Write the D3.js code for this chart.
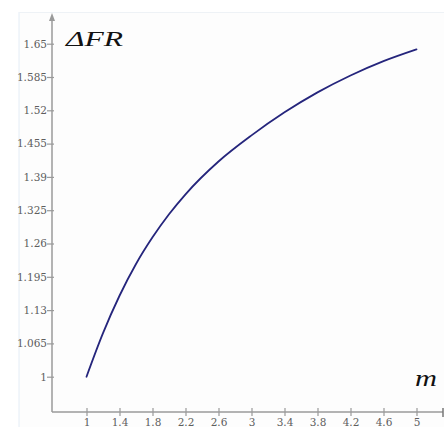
<!DOCTYPE html>
<html><head><meta charset="utf-8">
<script src="https://cdn.jsdelivr.net/npm/d3@7"></script>
<style>
html,body{margin:0;padding:0;background:#fff;}
svg{display:block;}
</style></head>
<body>
<svg id="c" width="444" height="427"></svg>
<script>
// Values
const mValues  = [1.0, 1.2, 1.4, 1.6, 1.8, 2.0, 2.2, 2.6, 3.0, 3.4, 3.8, 4.2, 4.6, 5.0];
const frValues = [1.000, 1.085, 1.158, 1.220, 1.272, 1.317, 1.356, 1.420, 1.471, 1.516, 1.555, 1.588, 1.616, 1.639];
const xTicks = [1, 1.4, 1.8, 2.2, 2.6, 3, 3.4, 3.8, 4.2, 4.6, 5];
const yTicks = [1, 1.065, 1.13, 1.195, 1.26, 1.325, 1.39, 1.455, 1.52, 1.585, 1.65];
const xLabel = "m";
const yLabel = "\u0394FR";

const svg = d3.select("#c");
const W = 444, H = 427;

// plot frame
const axisX = 52, axisY = 412, axisTop = 13, axisRight = 443;
const x = d3.scaleLinear().domain([1, 5]).range([86.5, 416.5]);
const y = d3.scaleLinear().domain([1, 1.65]).range([376.7, 43.7]);

// faint worksheet background / grid
svg.append("rect").attr("x", 0).attr("y", 0).attr("width", W).attr("height", H).attr("fill", "#ffffff");
svg.append("rect").attr("x", 19).attr("y", 12).attr("width", W - 19).attr("height", H - 12).attr("fill", "#fdfdfd");
svg.append("line").attr("x1", 19).attr("x2", 19).attr("y1", 12).attr("y2", H)
  .attr("stroke", "#e4edf6").attr("stroke-width", 1);
svg.append("line").attr("x1", 19).attr("x2", W).attr("y1", 12.5).attr("y2", 12.5)
  .attr("stroke", "#eef2f6").attr("stroke-width", 1);

const axisColor = "#9a9a9a";

// y axis
svg.append("line").attr("x1", axisX).attr("x2", axisX).attr("y1", axisTop + 4).attr("y2", axisY)
  .attr("stroke", axisColor).attr("stroke-width", 1.5);
svg.append("path")
  .attr("d", `M${axisX},${axisTop} L${axisX - 3},${axisTop + 8} L${axisX + 3},${axisTop + 8} Z`)
  .attr("fill", axisColor);

// x axis
svg.append("line").attr("x1", axisX).attr("x2", axisRight).attr("y1", axisY).attr("y2", axisY)
  .attr("stroke", axisColor).attr("stroke-width", 1.5);
svg.append("line").attr("x1", axisRight).attr("x2", axisRight).attr("y1", axisY - 4).attr("y2", axisY + 5)
  .attr("stroke", "#777").attr("stroke-width", 1.5);

// y ticks & labels
const yAxisG = svg.append("g").attr("transform", `translate(${axisX},0)`)
  .call(d3.axisLeft(y).tickValues(yTicks).tickSize(4).tickPadding(2).tickFormat(d => String(d)));
yAxisG.select(".domain").remove();
yAxisG.selectAll(".tick line").attr("stroke", axisColor).attr("stroke-width", 1.2).attr("x2", -5).attr("x1", 2);
yAxisG.selectAll(".tick text")
  .attr("font-family", "'DejaVu Serif', serif").attr("font-size", 10.5)
  .attr("fill", "#5e5e5e").attr("x", -5);

// x ticks & labels
const xAxisG = svg.append("g").attr("transform", `translate(0,${axisY})`)
  .call(d3.axisBottom(x).tickValues(xTicks).tickSize(4).tickFormat(d => String(d)));
xAxisG.select(".domain").remove();
xAxisG.selectAll(".tick line").attr("stroke", axisColor).attr("stroke-width", 1.2).attr("y1", -4).attr("y2", 4);
xAxisG.selectAll(".tick text")
  .attr("font-family", "'DejaVu Serif', serif").attr("font-size", 10.5)
  .attr("fill", "#5e5e5e").attr("dy", 0).attr("y", 14);

// curve
const pts = mValues.map((m, i) => [m, frValues[i]]);
svg.append("path")
  .datum(pts)
  .attr("d", d3.line().x(d => x(d[0])).y(d => y(d[1])).curve(d3.curveMonotoneX))
  .attr("fill", "none").attr("stroke", "#25257c").attr("stroke-width", 1.8)
  .attr("stroke-linecap", "round");

// axis titles
svg.append("text").attr("x", 66).attr("y", 46)
  .attr("font-family", "'Liberation Serif', 'Times New Roman', serif")
  .attr("font-style", "italic").attr("font-size", 21).attr("fill", "#111")
  .attr("textLength", 57).attr("lengthAdjust", "spacingAndGlyphs")
  .text(yLabel);
svg.append("text").attr("x", 415).attr("y", 386)
  .attr("font-family", "'Liberation Serif', 'Times New Roman', serif")
  .attr("font-style", "italic").attr("font-size", 24).attr("fill", "#111")
  .attr("textLength", 22).attr("lengthAdjust", "spacingAndGlyphs")
  .text(xLabel);
</script>
</body></html>
